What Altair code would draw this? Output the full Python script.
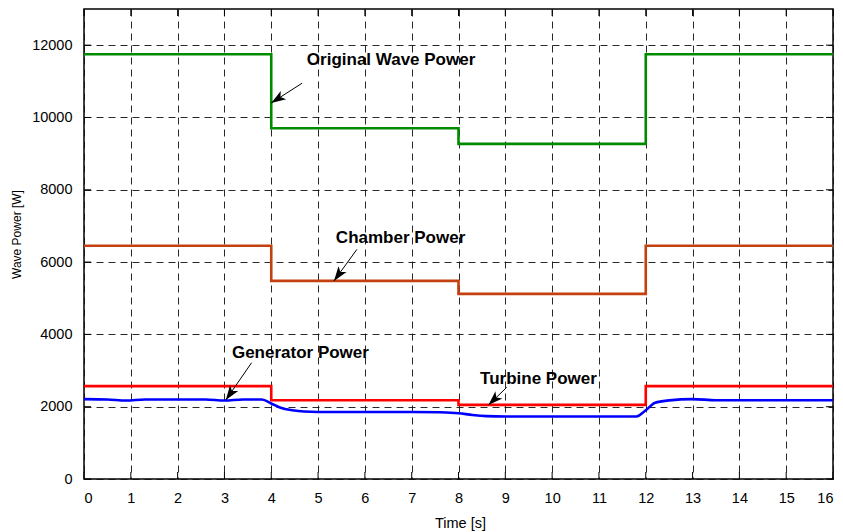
import math
import altair as alt
import pandas as pd

# ---- axes ----
time_ticks = list(range(0, 17))
power_ticks = [0, 2000, 4000, 6000, 8000, 10000, 12000]
time_domain = [0, 16]
power_domain = [0, 13000]

# ---- power series (step changes of the incident sea state at 4 s, 8 s, 12 s) ----
step_t = [0, 4, 4, 8, 8, 12, 12, 16]
wave_p = [11750, 11750, 9700, 9700, 9270, 9270, 11750, 11750]
chamber_p = [6450, 6450, 5480, 5480, 5120, 5120, 6450, 6450]
turbine_p = [2570, 2570, 2180, 2180, 2050, 2050, 2570, 2570]

gen_t = [0, 0.5, 0.9, 1.3, 2.0, 2.6, 3.0, 3.4, 3.8, 4.0, 4.2, 4.45, 4.7, 5.0, 7.0,
         7.6, 8.0, 8.3, 8.6, 9.0, 11.8, 12.0, 12.2, 12.5, 13.0, 13.5, 16]
gen_p = [2210, 2200, 2170, 2200, 2200, 2200, 2170, 2200, 2200, 2090, 1970, 1900, 1865, 1855, 1855,
         1845, 1820, 1770, 1740, 1730, 1730, 1900, 2110, 2175, 2210, 2180, 2180]

series_names = ["Original Wave Power", "Chamber Power", "Turbine Power", "Generator Power"]
series_colors = ["#008a00", "#c4400e", "#ff0000", "#0000ff"]

# ---- annotations ----
labels = ["Original Wave Power", "Chamber Power", "Generator Power", "Turbine Power"]
label_t = [4.76, 5.38, 3.16, 8.46]
label_p = [11585, 6664, 3492, 2757]
arrow_from_t = [4.66, 5.83, 3.58, 9.03]
arrow_from_p = [10949, 6351, 3216, 2535]
arrow_to_t = [4.0, 5.34, 3.03, 8.64]
arrow_to_p = [10400, 5480, 2185, 2045]

PLOT_W, PLOT_H = 749, 470
FONT = "Liberation Sans, Arial, Helvetica, sans-serif"

rows = []
for name, ts, ps in [
    ("Original Wave Power", step_t, wave_p),
    ("Chamber Power", step_t, chamber_p),
    ("Turbine Power", step_t, turbine_p),
    ("Generator Power", gen_t, gen_p),
]:
    for i, (t, p) in enumerate(zip(ts, ps)):
        rows.append({"series": name, "t": t, "p": p, "i": i})
lines_df = pd.DataFrame(rows)

# arrowhead orientation in screen space (clockwise degrees from "up")
sx = PLOT_W / (time_domain[1] - time_domain[0])
sy = PLOT_H / (power_domain[1] - power_domain[0])
angles = []
for t0, p0, t1, p1 in zip(arrow_from_t, arrow_from_p, arrow_to_t, arrow_to_p):
    dx = (t1 - t0) * sx
    dy = -(p1 - p0) * sy
    angles.append(math.degrees(math.atan2(dx, -dy)) % 360)

ann_df = pd.DataFrame({
    "label": labels, "lt": label_t, "lp": label_p,
    "t0": arrow_from_t, "p0": arrow_from_p,
    "t1": arrow_to_t, "p1": arrow_to_p, "angle": angles,
})

x_scale = alt.Scale(domain=time_domain, nice=False, zero=False)
y_scale = alt.Scale(domain=power_domain, nice=False, zero=False)

x_axis = alt.Axis(
    values=time_ticks, format="d", title="Time [s]", labelPadding=12, titleFontSize=14.5,
    titleX=376, titleY=44, titleBaseline="middle", titleAnchor="start", titleAlign="center",
)
y_axis = alt.Axis(
    values=power_ticks, format="d", title="Wave Power [W]", labelPadding=12, titleFontSize=12,
    titleX=-61, titleY=225, titleAlign="center", titleAngle=270,
)

def X(field):
    return alt.X(field, type="quantitative", scale=x_scale, axis=x_axis)

def Y(field):
    return alt.Y(field, type="quantitative", scale=y_scale, axis=y_axis)

# inward frame ticks (MATLAB style) on all four sides
tick_len_t = 7 / sx
tick_len_p = 7 / sy
tick_rows = []
for t in time_ticks:
    tick_rows.append({"a": t, "b": power_domain[0], "a2": t, "b2": power_domain[0] + tick_len_p})
    tick_rows.append({"a": t, "b": power_domain[1], "a2": t, "b2": power_domain[1] - tick_len_p})
for p in power_ticks:
    tick_rows.append({"a": time_domain[0], "b": p, "a2": time_domain[0] + tick_len_t, "b2": p})
    tick_rows.append({"a": time_domain[1], "b": p, "a2": time_domain[1] - tick_len_t, "b2": p})
ticks_df = pd.DataFrame(tick_rows)

frame_ticks = alt.Chart(ticks_df).mark_rule(color="black", strokeWidth=1).encode(
    x=X("a"), y=Y("b"), x2="a2", y2="b2"
)

# step series drawn without smoothing
step_lines = alt.Chart(lines_df[lines_df.series != "Generator Power"]).mark_line(
    strokeWidth=2.6, interpolate="linear"
).encode(
    x=X("t"), y=Y("p"),
    color=alt.Color("series:N", scale=alt.Scale(domain=series_names, range=series_colors), legend=None),
    order="i:Q",
    detail="series:N",
)
# generator output responds smoothly
gen_line = alt.Chart(lines_df[lines_df.series == "Generator Power"]).mark_line(
    strokeWidth=2.6, interpolate="monotone", color="#0000ff"
).encode(x=X("t"), y=Y("p"), order="i:Q")

arrow_shafts = alt.Chart(ann_df).mark_rule(color="black", strokeWidth=1).encode(
    x=X("t0"), y=Y("p0"), x2="t1", y2="p1"
)
arrow_heads = alt.Chart(ann_df).mark_point(
    shape="M0,0 L-0.55,1.6 L0,1.2 L0.55,1.6 Z", filled=True, color="black", size=330, opacity=1
).encode(x=X("t1"), y=Y("p1"), angle=alt.Angle("angle:Q", scale=None))

ann_text = alt.Chart(ann_df).mark_text(
    align="left", baseline="middle", fontWeight="bold", fontSize=17, font=FONT, color="black"
).encode(x=X("lt"), y=Y("lp"), text="label:N")

chart = alt.layer(
    frame_ticks, step_lines, gen_line, arrow_shafts, arrow_heads, ann_text
).properties(
    width=PLOT_W, height=PLOT_H,
    autosize=alt.AutoSizeParams(type="none"),
    padding={"left": 84, "top": 9, "right": 10, "bottom": 53},
    background="white",
).configure_view(
    stroke="black", strokeWidth=1.5
).configure_axis(
    domain=False, ticks=False, tickSize=0,
    grid=True, gridColor="#111", gridDash=[7, 5], gridWidth=1, gridOpacity=0.9,
    labelFont=FONT, labelFontSize=14.5, labelColor="black",
    titleFont=FONT, titleFontWeight="normal", titleColor="black",
)

chart.save("out.html", embed_options={"renderer": "svg", "actions": False})
